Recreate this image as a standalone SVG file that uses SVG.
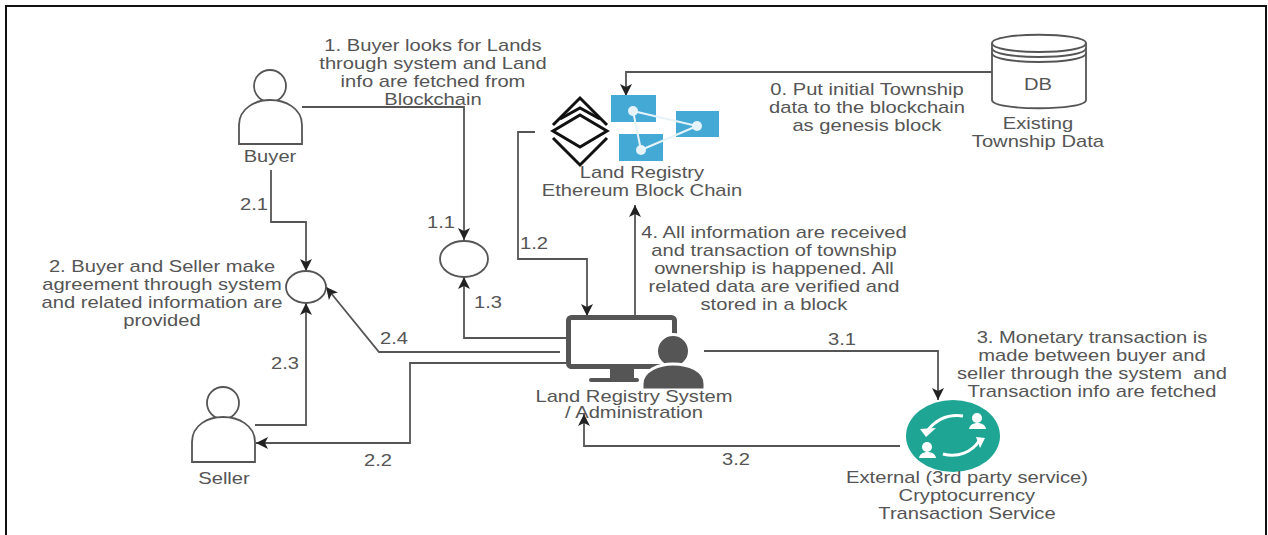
<svg xmlns="http://www.w3.org/2000/svg" width="1268" height="535" viewBox="0 0 1268 535">
<style>
text{font-family:"Liberation Sans",Arial,sans-serif;font-size:16px;fill:#555;text-anchor:middle;transform:scaleX(1.26);transform-box:fill-box;transform-origin:center}
.c{fill:none;stroke:#555;stroke-width:1.8}
.o{fill:#fff;stroke:#555;stroke-width:1.8}
.b{fill:#45a9d6}
.w{stroke:#e6f3f9;stroke-width:2;fill:none}
.n{fill:#e6f3f9}
.d{fill:#555}
</style>
<defs>
<marker id="a" markerUnits="userSpaceOnUse" markerWidth="14" markerHeight="12" refX="12" refY="6" orient="auto"><path d="M0 0L12 6L0 12L3 6Z" fill="#222"/></marker>
</defs>
<rect width="1268" height="535" fill="#fff"/>
<path d="M6 535V6H1266V535" fill="none" stroke="#111" stroke-width="2"/>
<g id="connectors">
<path class="c" marker-end="url(#a)" d="M992 72H626V96"/>
<path class="c" marker-end="url(#a)" d="M302 107H464V240"/>
<path class="c" marker-end="url(#a)" d="M271 170V222H306V271"/>
<path class="c" marker-end="url(#a)" d="M255 425H306V303"/>
<path class="c" marker-end="url(#a)" d="M560 352H379L326 287"/>
<path class="c" marker-end="url(#a)" d="M566 338H464V277"/>
<path class="c" marker-end="url(#a)" d="M535 132H518V259H587V316"/>
<path class="c" marker-end="url(#a)" d="M635 315V205"/>
<path class="c" marker-end="url(#a)" d="M566 363H410V443H256"/>
<path class="c" marker-end="url(#a)" d="M704 351H938V400"/>
<path class="c" marker-end="url(#a)" d="M900 446H584V414"/>
</g>
<g id="buyer"><circle class="o" cx="270" cy="86" r="16"/><path class="o" d="M239 144V125C239 108 256 100 270 100C285 100 302 108 302 125V144Z"/><text x="270" y="162">Buyer</text></g>
<g id="seller"><circle class="o" cx="223" cy="403" r="16"/><path class="o" d="M192 462V442C192 425 208 417 223 417C238 417 255 425 255 442V462Z"/><text x="224" y="484">Seller</text></g>
<g id="db"><path class="o" d="M992 43C992 32 1086 32 1086 43V100C1086 111 992 111 992 100Z"/><path class="o" fill="none" d="M992 43C992 55 1086 55 1086 43M992 48C992 60 1086 60 1086 48M992 53C992 65 1086 65 1086 53"/><text x="1038" y="90">DB</text><text x="1038" y="129">Existing</text><text x="1038" y="147">Township Data</text></g>
<g id="blockchain">
<g fill="none" stroke="#111" stroke-width="3"><path d="M553 125L580 98L607 125"/><path d="M560 119L580 108L600 119"/><path d="M580 115L607 131L580 147L553 131Z"/><path d="M553 138L580 165L607 138"/></g>
<rect class="b" x="611" y="95" width="45" height="27"/><rect class="b" x="676" y="111" width="43" height="26"/><rect class="b" x="619" y="134" width="44" height="27"/>
<path class="w" d="M633 111L697 126L641 150Z"/><circle class="n" cx="633" cy="111" r="5"/><circle class="n" cx="697" cy="126" r="5"/><circle class="n" cx="641" cy="150" r="5"/>
<text x="642" y="178">Land Registry</text><text x="642" y="196">Ethereum Block Chain</text></g>
<g id="c1"><ellipse class="o" cx="464" cy="259" rx="24" ry="18"/></g>
<g id="c2"><ellipse class="o" cx="306" cy="287" rx="20" ry="16"/></g>
<g id="system">
<rect x="568.5" y="317.5" width="106" height="49" rx="3" fill="#fff" stroke="#555" stroke-width="5"/>
<rect class="d" x="610" y="367" width="24" height="11"/>
<rect class="d" x="589" y="378" width="50" height="4" rx="2"/>
<circle class="d" cx="673" cy="351" r="16.5" stroke="#fff" stroke-width="3"/>
<path class="d" d="M642 390V384C642 370 660 364 673 364C688 364 705 370 705 384V390Z" stroke="#fff" stroke-width="3"/>
<text x="634" y="402">Land Registry System</text><text x="634" y="418">/ Administration</text></g>
<g id="service"><ellipse cx="953" cy="436" rx="47" ry="36" fill="#1fa594"/>
<g fill="none" stroke="#fff" stroke-width="3"><path d="M963 416C948 414 936 420 928 430"/><path d="M943 454C958 458 972 452 979 441"/></g>
<path d="M920 429L936 428L926 437ZM976 437L985 438L980 448Z" fill="#fff"/>
<g fill="#fff"><circle cx="977" cy="418" r="5"/><path d="M969 429C970 421 985 421 986 429Z"/><circle cx="927" cy="447" r="5"/><path d="M919 458C920 450 935 450 936 458Z"/></g>
<text x="967" y="483">External (3rd party service)</text><text x="967" y="501">Cryptocurrency</text><text x="967" y="519">Transaction Service</text></g>
<g id="labels">
<text x="433" y="51">1. Buyer looks for Lands</text><text x="433" y="69">through system and Land</text><text x="433" y="87">info are fetched from</text><text x="433" y="105">Blockchain</text>
<text x="867" y="95">0. Put initial Township</text><text x="867" y="113">data to the blockchain</text><text x="867" y="131">as genesis block</text>
<text x="254" y="210">2.1</text><text x="441" y="228">1.1</text><text x="534" y="249">1.2</text><text x="488" y="308">1.3</text>
<text x="162" y="272">2. Buyer and Seller make</text><text x="162" y="290">agreement through system</text><text x="162" y="308">and related information are</text><text x="162" y="326">provided</text>
<text x="774" y="238">4. All information are received</text><text x="774" y="256">and transaction of township</text><text x="774" y="274">ownership is happened. All</text><text x="774" y="292">related data are verified and</text><text x="774" y="310">stored in a block</text>
<text x="394" y="344">2.4</text><text x="285" y="369">2.3</text><text x="378" y="466">2.2</text><text x="842" y="345">3.1</text><text x="736" y="465">3.2</text>
<text x="1092" y="343">3. Monetary transaction is</text><text x="1092" y="361">made between buyer and</text><text x="1092" y="379" xml:space="preserve">seller through the system  and</text><text x="1092" y="397">Transaction info are fetched</text>
</g>
</svg>
